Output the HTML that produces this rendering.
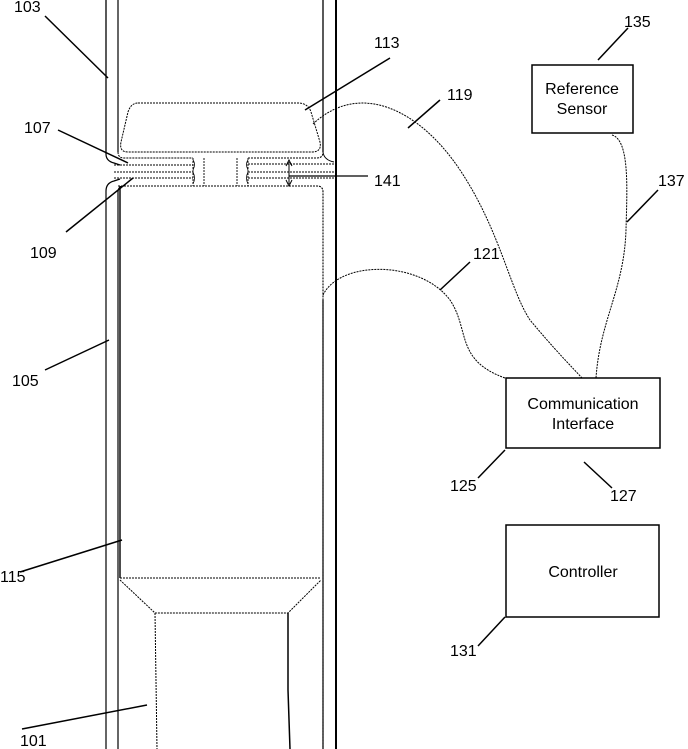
<!DOCTYPE html>
<html><head><style>html,body{margin:0;padding:0;background:#fff}svg{display:block}text{font-family:"Liberation Sans",sans-serif;font-size:16px;fill:#000}</style></head><body>
<svg width="688" height="749" viewBox="0 0 688 749" xmlns="http://www.w3.org/2000/svg">
<g fill="none" stroke="#000">
<line x1="106" y1="0" x2="106" y2="154" stroke-width="1.3"/>
<path d="M106 154 Q106 161 114 163 L120 165" stroke-width="1.2"/>
<line x1="118" y1="0" x2="118" y2="152" stroke-width="1.2"/>
<path d="M118 152 Q118 158 124 158 L193 158" stroke-width="1" stroke-dasharray="2 1"/>
<path d="M248 158 L317 158 Q323 158 323 152" stroke-width="1" stroke-dasharray="2 1"/>
<line x1="323" y1="0" x2="323" y2="152" stroke-width="1.3"/>
<line x1="336" y1="0" x2="336" y2="749" stroke-width="2"/>
<path d="M323 152 Q324 160 334 162" stroke-width="1"/>
<path d="M114 165 L193 165 M114 172 L193 172 M114 178 L193 178" stroke-width="0.9" stroke-dasharray="2 1"/>
<path d="M248 164 L334 164 M248 172 L334 172 M248 178 L334 178" stroke-width="0.9" stroke-dasharray="2 1"/>
<path d="M120 179 L114 181 Q106 183 106 191 L106 749" stroke-width="1.2"/>
<line x1="118" y1="190" x2="118" y2="749" stroke-width="1.2"/>
<path d="M118 186 L317 186 Q323 186 323 192 L323 749" stroke-width="1.1" stroke-dasharray="2 1"/>
<line x1="323" y1="300" x2="323" y2="749" stroke-width="1.2"/>
<path d="M124 186 Q118 186 118 192" stroke-width="1"/>
<path d="M193 158 L193 186 M248 158 L248 186 M204 158 L204 186 M237 158 L237 186" stroke-width="0.9" stroke-dasharray="2 1"/>
<path d="M193 160 Q196 164 193 170 M248 160 Q245 164 248 170 M193 172 Q196 178 193 184 M248 172 Q245 178 248 184" stroke-width="0.8"/>
<path d="M138 103 L298 103 Q308 103 311 112 L320 142 Q322 152 312 152 L128 152 Q119 152 121 142 L128 112 Q131 103 138 103 Z" stroke-width="1" stroke-dasharray="2 1"/>
<line x1="120" y1="186" x2="120" y2="578" stroke-width="1.4"/>
<line x1="120" y1="578" x2="321" y2="578" stroke-width="1" stroke-dasharray="2 1"/>
<path d="M120 580 L155 613 L288 613 L321 580" stroke-width="1" stroke-dasharray="2 1"/>
<path d="M155 613 L157 749" stroke-width="1" stroke-dasharray="2 1"/>
<path d="M288 613 L288 690 M288 690 L290 749" stroke-width="1.5"/>
<line x1="289" y1="162" x2="289" y2="184" stroke-width="1"/>
<path d="M286 166 L289 160 L292 166 M286 180 L289 186 L292 180" stroke-width="1"/>
<line x1="289" y1="176" x2="368" y2="176" stroke-width="1.3"/>
<line x1="45" y1="16" x2="108" y2="78" stroke-width="1.5"/>
<line x1="390" y1="58" x2="305" y2="110" stroke-width="1.5"/>
<line x1="58" y1="130" x2="128" y2="163" stroke-width="1.5"/>
<line x1="66" y1="232" x2="133" y2="178" stroke-width="1.5"/>
<line x1="45" y1="370" x2="109" y2="340" stroke-width="1.5"/>
<line x1="20" y1="572" x2="122" y2="540" stroke-width="1.5"/>
<line x1="22" y1="729" x2="147" y2="705" stroke-width="1.5"/>
<line x1="440" y1="100" x2="408" y2="128" stroke-width="1.5"/>
<line x1="470" y1="262" x2="440" y2="290" stroke-width="1.5"/>
<line x1="628" y1="28" x2="598" y2="60" stroke-width="1.5"/>
<line x1="658" y1="190" x2="627" y2="222" stroke-width="1.5"/>
<line x1="505" y1="450" x2="478" y2="478" stroke-width="1.5"/>
<line x1="584" y1="462" x2="612" y2="488" stroke-width="1.5"/>
<line x1="505" y1="617" x2="478" y2="646" stroke-width="1.5"/>
<path d="M313 124 C360 80 420 110 460 170 C500 230 510 290 530 320 C555 350 570 365 582 378" stroke-width="1" stroke-dasharray="2 1"/>
<path d="M323 295 C340 260 420 260 450 300 C470 330 455 360 505 378" stroke-width="1" stroke-dasharray="2 1"/>
<path d="M612 135 C630 140 627 190 626 230 C624 290 600 320 596 378" stroke-width="1" stroke-dasharray="2 1"/>
<rect x="532" y="65" width="101" height="68" stroke-width="1.5"/>
<rect x="506" y="378" width="154" height="70" stroke-width="1.5"/>
<rect x="506" y="525" width="153" height="92" stroke-width="1.5"/>
</g>
<text x="14" y="12">103</text>
<text x="374" y="48">113</text>
<text x="24" y="133">107</text>
<text x="447" y="100">119</text>
<text x="374" y="186">141</text>
<text x="30" y="258">109</text>
<text x="473" y="259">121</text>
<text x="12" y="386">105</text>
<text x="624" y="27">135</text>
<text x="658" y="186">137</text>
<text x="0" y="582">115</text>
<text x="450" y="491">125</text>
<text x="610" y="501">127</text>
<text x="450" y="656">131</text>
<text x="20" y="746">101</text>
<text x="582" y="94" text-anchor="middle">Reference</text>
<text x="582" y="114" text-anchor="middle">Sensor</text>
<text x="583" y="409" text-anchor="middle">Communication</text>
<text x="583" y="429" text-anchor="middle">Interface</text>
<text x="583" y="577" text-anchor="middle">Controller</text>
</svg>
</body></html>
